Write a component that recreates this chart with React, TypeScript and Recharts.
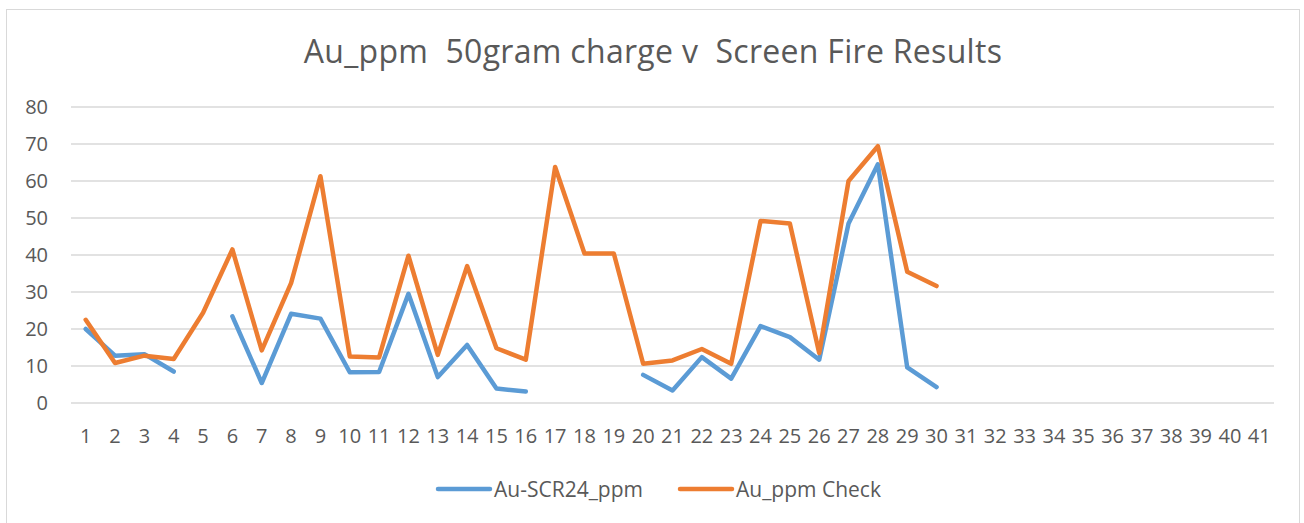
import { LineChart, Line, XAxis, YAxis, CartesianGrid, Legend } from 'recharts'

const categories = [
  '1', '2', '3', '4', '5', '6', '7', '8', '9', '10', '11', '12', '13', '14', '15', '16', '17', '18', '19', '20', '21',
  '22', '23', '24', '25', '26', '27', '28', '29', '30', '31', '32', '33', '34', '35', '36', '37', '38', '39', '40', '41',
]

const scr24 = [
  20, 12.8, 13.2, 8.5, null, 23.4, 5.4, 24.1, 22.8, 8.3, 8.4, 29.5, 7.0, 15.7, 3.9, 3.1, null, null, null, 7.6, 3.4,
  12.4, 6.6, 20.8, 17.8, 11.7, 48.5, 64.5, 9.6, 4.3,
]

const check = [
  22.5, 10.8, 12.8, 11.9, 24.4, 41.5, 14.2, 32.4, 61.3, 12.6, 12.3, 39.8, 13.0, 37.0, 14.8, 11.7, 63.8, 40.4, 40.4, 10.6,
  11.5, 14.6, 10.6, 49.2, 48.5, 13.5, 60.0, 69.4, 35.5, 31.6,
]

const yTicks = [0, 10, 20, 30, 40, 50, 60, 70, 80]

const data = categories.map((cat, i) => ({
  cat,
  scr: i < scr24.length ? scr24[i] : null,
  check: i < check.length ? check[i] : null,
}))

const BLUE = '#5b9bd5'
const ORANGE = '#ed7d31'
const TEXT = '#595959'

function LegendContent() {
  const items = [
    { label: 'Au-SCR24_ppm', color: BLUE },
    { label: 'Au_ppm Check', color: ORANGE },
  ]
  return (
    <div style={{ display: 'flex', justifyContent: 'center', alignItems: 'center', gap: 34, paddingLeft: 10 }}>
      {items.map((it) => (
        <div key={it.label} style={{ display: 'flex', alignItems: 'center' }}>
          <svg width={58} height={10}>
            <line x1={3} y1={5} x2={55} y2={5} stroke={it.color} strokeWidth={4.5} strokeLinecap="round" />
          </svg>
          <span style={{ fontSize: 21, color: TEXT, marginLeft: 1 }}>{it.label}</span>
        </div>
      ))}
    </div>
  )
}

export default function App() {
  return (
    <div
      style={{
        position: 'absolute',
        left: 6,
        top: 9,
        width: 1292,
        height: 513,
        border: '1px solid #d9d9d9',
        background: '#fff',
        fontFamily: '"Open Sans", sans-serif',
      }}
    >
      <div
        style={{
          position: 'absolute',
          top: 19,
          width: '100%',
          textAlign: 'center',
          fontSize: 32,
          letterSpacing: 0.3,
          color: TEXT,
          whiteSpace: 'pre',
        }}
      >
        {'Au_ppm  50gram charge v  Screen Fire Results'}
      </div>
      <LineChart width={1292} height={513} data={data} margin={{ top: 97, right: 25, bottom: 80, left: 0 }}>
        <CartesianGrid vertical={false} stroke="#d9d9d9" strokeWidth={1.3} />
        <XAxis
          dataKey="cat"
          interval={0}
          axisLine={false}
          tickLine={false}
          tickSize={0}
          tickMargin={26}
          height={40}
          padding={{ left: 14.7, right: 14.7 }}
          tick={{ fill: TEXT, fontSize: 20 }}
        />
        <YAxis
          domain={[0, 80]}
          ticks={yTicks}
          width={64}
          axisLine={false}
          tickLine={false}
          tickSize={0}
          tickMargin={23}
          tick={{ fill: TEXT, fontSize: 20 }}
        />
        <Legend
          verticalAlign="middle"
          align="center"
          content={<LegendContent />}
          wrapperStyle={{ top: 465, left: 0, width: 1292, height: 30 }}
        />
        <Line
          dataKey="scr"
          name="Au-SCR24_ppm"
          stroke={BLUE}
          strokeWidth={4.5}
          strokeLinecap="round"
          strokeLinejoin="round"
          dot={false}
          activeDot={false}
          isAnimationActive={false}
        />
        <Line
          dataKey="check"
          name="Au_ppm Check"
          stroke={ORANGE}
          strokeWidth={4.5}
          strokeLinecap="round"
          strokeLinejoin="round"
          dot={false}
          activeDot={false}
          isAnimationActive={false}
        />
      </LineChart>
    </div>
  )
}
